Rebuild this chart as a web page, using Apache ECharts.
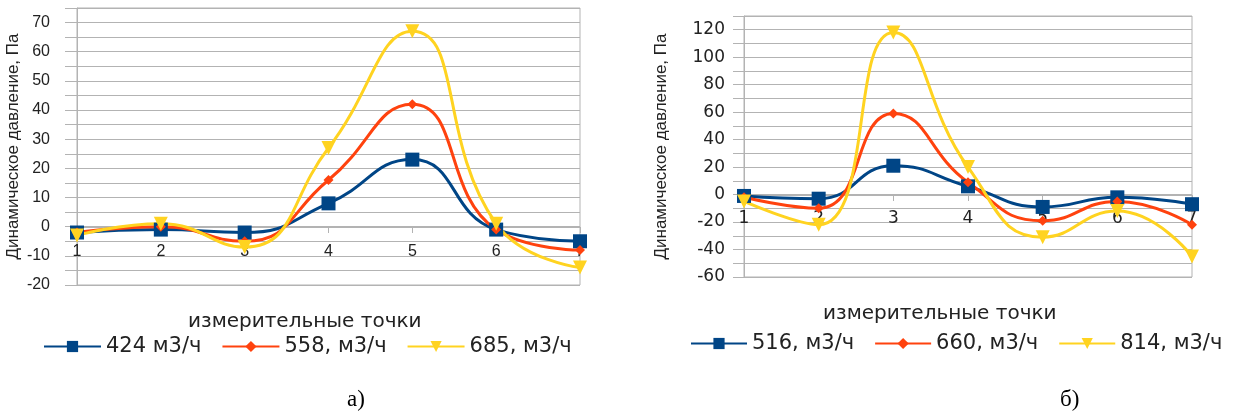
<!DOCTYPE html>
<html>
<head>
<meta charset="utf-8">
<script src="https://cdn.jsdelivr.net/npm/echarts@6/dist/echarts.min.js"></script>
<style>
  html, body { margin: 0; padding: 0; background: #fff; }
  #chart { width: 1233px; height: 416px; }
</style>
</head>
<body>
<div id="chart"></div>
<script>
// measuring points
const pointsA = ['1', '2', '3', '4', '5', '6', '7']
const pointsB = ['1', '2', '3', '4', '5', '6', '7']

// chart а) dynamic pressure, Pa
const namesA = ['424 м3/ч', '558, м3/ч', '685, м3/ч']
const flow424 = [-2, -1, -2, 8, 23, -1, -5]
const flow558 = [-2, 0, -5, 16, 42, -1, -8]
const flow685 = [-3, 1, -7, 27, 67, 1, -14]

// chart б) dynamic pressure, Pa
const namesB = ['516, м3/ч', '660, м3/ч', '814, м3/ч']
const flow516 = [-1, -3, 21, 6, -9, -2, -7]
const flow660 = [-2, -10, 59, 9, -19, -5, -22]
const flow814 = [-5, -22, 118, 20, -31, -12, -45]

const colors = ['#004586', '#ff420e', '#ffd320']
const symbols = ['rect', 'diamond', 'triangle']
const symbolSizes = [14, 10, 14]
const font = 'Liberation Sans'
const wideFont = 'DejaVu Sans'
const gridColor = '#b3b3b3'

const chart = echarts.init(document.getElementById('chart'))

// x axis sits on the zero line: offset pulls it up from the grid bottom
const makeX = (gridIndex, data, offset, fontSize, fontFamily, margin) => ({
  type: 'category',
  gridIndex,
  data,
  boundaryGap: false,
  offset,
  axisLine: { onZero: false, lineStyle: { color: gridColor, width: 1 } },
  axisTick: { show: true, length: 6, lineStyle: { color: gridColor } },
  axisLabel: { color: '#222', fontSize, fontFamily, margin },
  splitLine: { show: false },
})

const makeY = (gridIndex, min, max, interval, step, margin, tickLen, gap, fontSize, fontFamily) => ({
  type: 'value',
  gridIndex,
  min,
  max,
  interval,
  name: 'Динамическое давление, Па',
  nameLocation: 'middle',
  nameGap: gap,
  nameTextStyle: { color: '#222', fontSize: 17, fontFamily: font },
  axisLine: { show: true, onZero: false, lineStyle: { color: gridColor } },
  axisTick: { show: true, length: tickLen, lineStyle: { color: gridColor } },
  axisLabel: {
    color: '#222',
    fontSize,
    fontFamily,
    margin,
    formatter: (v) => (v % step === 0 ? String(v) : ''),
  },
  splitLine: { show: true, lineStyle: { color: gridColor, width: 1 } },
})

const makeSeries = (names, values, xi) =>
  values.map((vals, i) => ({
    name: names[i],
    type: 'line',
    xAxisIndex: xi,
    yAxisIndex: xi,
    data: vals,
    smooth: true,
    symbol: symbols[i],
    symbolSize: symbolSizes[i],
    symbolRotate: i === 2 ? 180 : 0,
    lineStyle: { color: colors[i], width: 3 },
    itemStyle: { color: colors[i] },
  }))

const legendText = { color: '#222', fontSize: 21, fontFamily: wideFont }
const nameText = { color: '#222', fontSize: 20, fontWeight: 'normal', fontFamily: wideFont }
const letterText = { color: '#000', fontSize: 23, fontWeight: 'normal', fontFamily: 'Liberation Serif' }

chart.setOption({
  animation: false,
  textStyle: { fontFamily: font },
  grid: [
    { left: 77, top: 8, width: 503, height: 277, show: true, borderColor: gridColor, borderWidth: 1 },
    { left: 744, top: 16, width: 448, height: 261, show: true, borderColor: gridColor, borderWidth: 1 },
  ],
  xAxis: [
    makeX(0, pointsA, -58, 16, font, 17),
    makeX(1, pointsB, -82, 17, wideFont, 15),
  ],
  yAxis: [
    makeY(0, -20, 75, 5, 10, 27, 12, 55, 16, font),
    makeY(1, -60, 130, 10, 20, 19, 11, 74, 17, wideFont),
  ],
  legend: [
    { data: namesA, left: 38, top: 331, itemWidth: 57, itemHeight: 14, itemGap: 20, textStyle: legendText },
    { data: namesB, left: 685, top: 328, itemWidth: 56, itemHeight: 14, itemGap: 20, textStyle: legendText },
  ],
  title: [
    { text: 'измерительные точки', left: 183, top: 307, textStyle: nameText },
    { text: 'измерительные точки', left: 818, top: 299, textStyle: nameText },
    { text: 'а)', left: 342, top: 383, textStyle: letterText },
    { text: 'б)', left: 1055, top: 383, textStyle: letterText },
  ],
  series: [
    ...makeSeries(namesA, [flow424, flow558, flow685], 0),
    ...makeSeries(namesB, [flow516, flow660, flow814], 1),
  ],
})
</script>
</body>
</html>
